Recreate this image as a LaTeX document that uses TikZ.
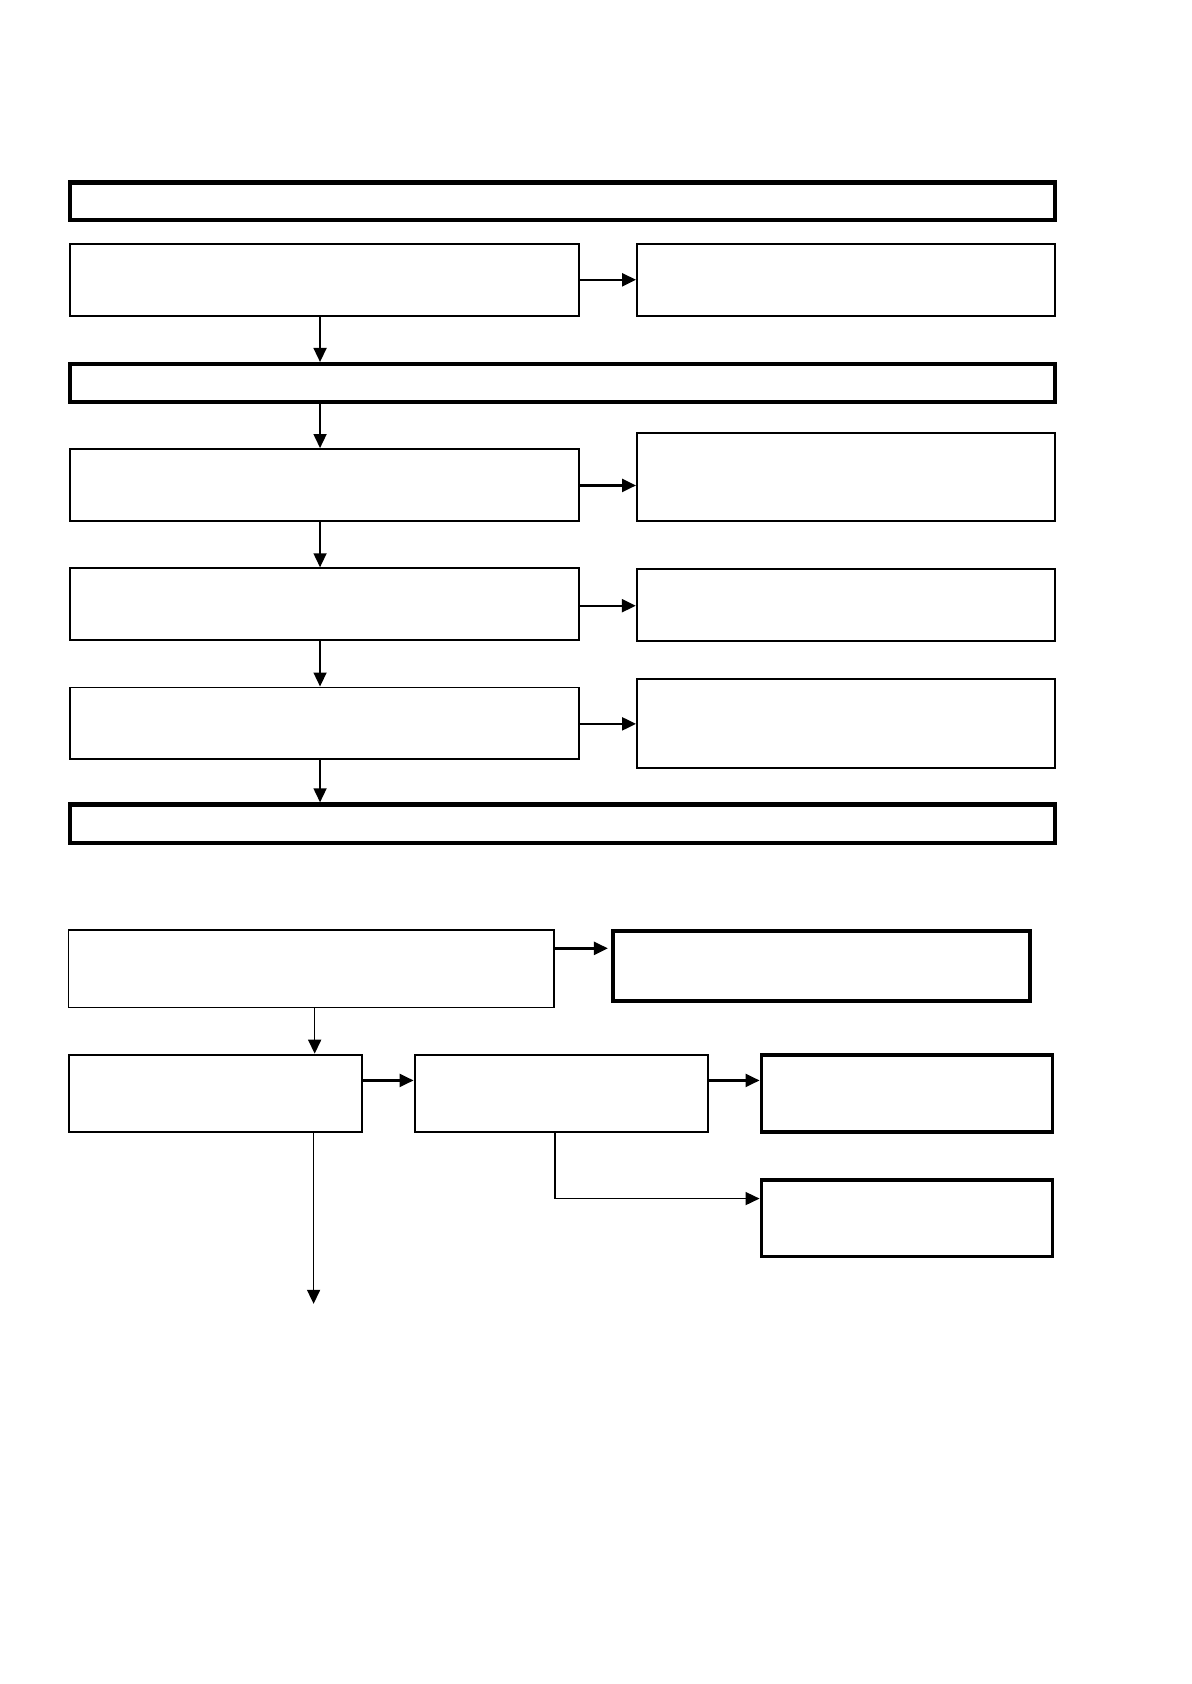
\documentclass[tikz,border=0pt]{standalone}
\usetikzlibrary{arrows.meta,fit}
\begin{document}
\begin{tikzpicture}[x=0.53697pt,y=-0.53697pt,
  thinbox/.style={draw=black,line width=0.85pt,inner sep=0pt,rectangle},
  thickbox/.style={draw=black,line width=1.9pt,inner sep=0pt,rectangle},
  barbox/.style={draw=black,line width=2.1pt,inner sep=0pt,rectangle},
  arr/.style={-{Triangle[length=7pt,width=6.5pt]},line width=0.8pt},
  harr/.style={-{Triangle[length=7pt,width=6.5pt]},line width=1.2pt}]
\useasboundingbox[fill=white] (0,0) rectangle (1109,1568);
% upper section
\node[barbox,fit={(65,170) (982,205)}] (T1) {};
\node[thinbox,fit={(65,227) (539,294)}] (A) {};
\node[thinbox,fit={(593,227) (982,294)}] (B) {};
\node[barbox,fit={(65,339) (982,374)}] (T2) {};
\node[thinbox,fit={(65,418) (539,485)}] (C) {};
\node[thinbox,fit={(593,403) (982,485)}] (D) {};
\node[thinbox,fit={(65,529) (539,596)}] (E) {};
\node[thinbox,line width=1.1pt,fit={(593,530) (982,597)}] (F) {};
\node[thinbox,fit={(65,640) (539,707)}] (G) {};
\node[thinbox,fit={(593,632) (982,715)}] (H) {};
\node[barbox,fit={(65,749) (982,785)}] (T3) {};
\coordinate (vx) at (298,0);
\coordinate (yc) at (0,452);
\coordinate (ye) at (0,564);
\coordinate (yg) at (0,674);
\draw[harr] (A.east) -- (B.west);
\draw[harr] (C.east |- yc) -- (D.west |- yc);
\draw[harr] (E.east |- ye) -- (F.west |- ye);
\draw[harr] (G.east |- yg) -- (H.west |- yg);
\draw[arr] (A.south -| vx) -- (T2.north -| vx);
\draw[arr] (T2.south -| vx) -- (C.north -| vx);
\draw[arr] (C.south -| vx) -- (E.north -| vx);
\draw[arr] (E.south -| vx) -- (G.north -| vx);
\draw[arr] (G.south -| vx) -- (T3.north -| vx);
% lower section
\node[thinbox,line width=0.7pt,fit={(64,866) (516,938)}] (I) {};
\node[thickbox,fit={(571,867) (959,932)}] (J) {};
\node[thinbox,line width=1pt,fit={(64,982) (337,1054)}] (K) {};
\node[thinbox,line width=1pt,fit={(386,982) (659,1054)}] (L) {};
\node[thickbox,fit={(709,982) (980,1054)}] (M) {};
\node[thickbox,fit={(709,1099) (980,1170)}] (N) {};
\coordinate (yij) at (0,883);
\coordinate (xij) at (566,0);
\coordinate (xik) at (293,0);
\coordinate (ykl) at (0,1006);
\coordinate (xl) at (517,0);
\coordinate (yn) at (0,1116);
\coordinate (xk) at (292,0);
\coordinate (kend) at (292,1214);
\draw[harr] (I.east |- yij) -- (xij |- yij);
\draw[arr] (I.south -| xik) -- (K.north -| xik);
\draw[harr] (K.east |- ykl) -- (L.west |- ykl);
\draw[harr] (L.east |- ykl) -- (M.west |- ykl);
\draw[arr] (L.south -| xl) -- (xl |- yn) -- (N.west |- yn);
\draw[arr] (K.south -| xk) -- (kend);
\end{tikzpicture}
\end{document}
